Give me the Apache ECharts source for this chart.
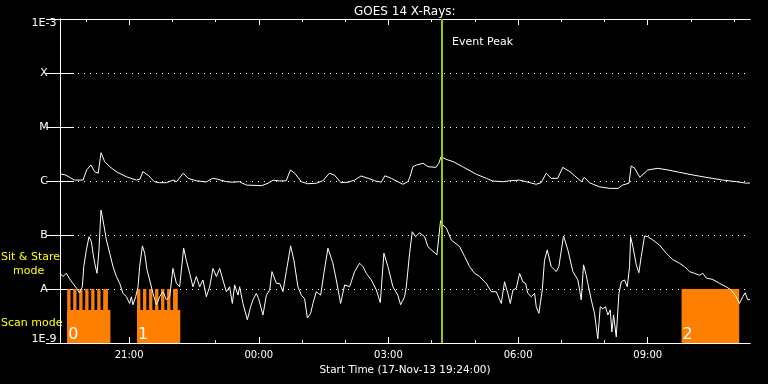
<!DOCTYPE html>
<html><head><meta charset="utf-8">
<script src="https://cdn.jsdelivr.net/npm/echarts@6/dist/echarts.min.js"></script>
<style>html,body{margin:0;padding:0;background:#000}#c{width:768px;height:384px}</style>
</head><body><div id="c"></div>
<script>
// time in minutes after start (17-Nov-13 19:24:00)
const startMinute = 19 * 60 + 24;
const xMax = 958;
const majorTicks = [96, 276, 456, 636, 816];
const minorTicks = [36, 156, 216, 336, 396, 516, 576, 696, 756, 876, 936];
const levelNames = { '-9': '1E-9', '-8': 'A', '-7': 'B', '-6': 'C', '-5': 'M', '-4': 'X', '-3': '1E-3' };
const eventPeak = 530;
const titleText = 'GOES 14 X-Rays:';
const xName = 'Start Time (17-Nov-13 19:24:00)';

// instrument mode blocks: [start, end]
const scanBlocks = [[10, 70], [107, 167]];
const stareBars = [[10, 14.6], [18.3, 22.9], [26.7, 31.3], [35, 39.6], [43.3, 47.9], [51.7, 56.3], [60, 66.5],
  [107, 111.6], [115.3, 119.9], [123.7, 128.3], [132, 136.6], [140.3, 144.9], [148.7, 153.3], [157, 163.5],
  [863, 943]];
const scanLevel = 4.1e-9;
const stareLevel = 1e-8;
const blockNames = ['0', '1', '2'];
const blockStarts = [10, 107, 863];

// long channel (1-8 A) flux W/m^2
const longChannel = [[0,1.35e-6],[8,1.29e-6],[20,1.04e-6],[32,1.04e-6],[37,1.60e-6],[43,1.98e-6],[48,1.49e-6],[53,1.39e-6],[57,3.34e-6],[62,2.28e-6],[69,1.84e-6],[78,1.49e-6],[92,1.20e-6],[106,1.04e-6],[111,1.08e-6],[115,1.49e-6],[122,1.29e-6],[131,9.7e-7],[138,9.3e-7],[148,9.3e-7],[157,1.04e-6],[162,9.7e-7],[171,1.39e-6],[178,1.12e-6],[189,1.01e-6],[203,9.6e-7],[212,1.12e-6],[219,1.08e-6],[231,9.7e-7],[240,9.5e-7],[249,9.7e-7],[259,8.4e-7],[280,8.2e-7],[289,9.1e-7],[296,1.04e-6],[305,1.0e-6],[314,1.01e-6],[320,1.60e-6],[326,1.39e-6],[335,9.7e-7],[344,8.9e-7],[356,9.1e-7],[365,1.01e-6],[374,1.39e-6],[381,1.29e-6],[390,9.3e-7],[400,9.5e-7],[409,1.04e-6],[418,1.24e-6],[428,1.12e-6],[437,1.01e-6],[446,9.5e-7],[451,1.25e-6],[460,1.12e-6],[469,9.7e-7],[476,8.7e-7],[483,9.7e-7],[486,1.20e-6],[490,1.84e-6],[495,1.98e-6],[504,2.13e-6],[511,1.84e-6],[522,1.79e-6],[526,2.13e-6],[529,2.82e-6],[536,2.52e-6],[546,2.28e-6],[559,1.84e-6],[578,1.33e-6],[592,1.12e-6],[601,1.0e-6],[615,9.7e-7],[624,1.01e-6],[638,1.04e-6],[647,9.7e-7],[661,8.7e-7],[668,9.3e-7],[675,1.39e-6],[682,1.12e-6],[691,1.12e-6],[698,1.79e-6],[708,1.49e-6],[724,9.7e-7],[728,1.17e-6],[735,9.3e-7],[749,7.8e-7],[763,7.3e-7],[775,7.3e-7],[781,8.4e-7],[790,9.1e-7],[793,1.90e-6],[798,1.72e-6],[805,1.17e-6],[816,1.60e-6],[830,1.72e-6],[844,1.60e-6],[860,1.45e-6],[879,1.29e-6],[897,1.17e-6],[920,1.04e-6],[939,9.7e-7],[953,9.1e-7],[958,9.2e-7]];

// short channel (0.5-4 A) flux W/m^2
const shortChannel = [[0,1.95e-8],[4,1.7e-8],[9,1.95e-8],[12.5,1.6e-8],[18,1.27e-8],[23,1.03e-8],[27,8.5e-9],[31,1.1e-8],[33,2.6e-8],[36.6,5.3e-8],[40.3,9.3e-8],[43.6,7.5e-8],[45.8,4.6e-8],[48.2,3.0e-8],[51.4,1.95e-8],[54.1,5.3e-8],[56.9,2.9e-7],[59.7,1.9e-7],[64.4,8.1e-8],[69,4.6e-8],[73.6,2.6e-8],[78.3,1.7e-8],[82.9,1.27e-8],[87.4,8.3e-9],[92.2,7.2e-9],[96.7,5.4e-9],[99.1,7.2e-9],[101.3,5.1e-9],[105.1,7.2e-9],[108.3,1.1e-8],[110.6,2.6e-8],[114.4,6.3e-8],[117.6,4.6e-8],[120.8,2.25e-8],[124.5,1.47e-8],[129.1,8.3e-9],[133.8,5.1e-9],[138.4,7.2e-9],[143,8.9e-9],[147.7,6.3e-9],[152.3,7.2e-9],[156.8,2.4e-8],[161.6,1.27e-8],[166.1,1.1e-8],[171.7,5.7e-8],[175.4,3.4e-8],[180,1.95e-8],[184.6,1.1e-8],[189.3,1.7e-8],[193.9,1.1e-8],[198.5,1.47e-8],[203.2,7.2e-9],[207.8,1.1e-8],[212.4,2.4e-8],[217.1,1.7e-8],[221.7,2.4e-8],[226.2,1.47e-8],[231,8.9e-9],[235.5,1.1e-8],[239.3,5.4e-9],[242.5,1.19e-8],[247.1,7.7e-9],[249.4,1.1e-8],[254,5.4e-9],[260.1,2.7e-9],[264.7,4.7e-9],[267.9,6.3e-9],[272.6,8.3e-9],[275.8,6.6e-9],[281.8,3.3e-9],[286.5,7.7e-9],[291.1,9.6e-9],[294.3,2.1e-8],[300.4,1.27e-8],[305,1.27e-8],[309.5,8.9e-9],[314.2,2.1e-8],[320.2,6.3e-8],[324.8,3.4e-8],[330.3,1.1e-8],[335.1,7.7e-9],[339.6,6.6e-9],[343.4,2.9e-9],[348,3.55e-9],[351.2,5.4e-9],[355.9,8.9e-9],[361.9,7.7e-9],[366.4,1.95e-8],[372,5.7e-8],[378.9,3.0e-8],[383.6,1.47e-8],[389.6,5.4e-9],[395.2,1.19e-8],[402.1,1.1e-8],[409,2.1e-8],[416,3.0e-8],[420.6,2.6e-8],[425.3,1.95e-8],[432.2,1.47e-8],[439.2,9.6e-9],[444.7,5.6e-9],[449.7,4.6e-8],[455.3,2.6e-8],[462.2,1.1e-8],[469.1,7.7e-9],[472.9,5.1e-9],[478.4,7.2e-9],[480.8,1.1e-8],[485.4,4.6e-8],[489.1,1.15e-7],[493.7,9.3e-8],[499.3,1.1e-7],[506.2,9.3e-8],[510.8,6.1e-8],[515.5,5.3e-8],[523.3,4.3e-8],[526,9.3e-8],[528.4,1.84e-7],[531.6,1.53e-7],[536.3,1.35e-7],[543.3,8.1e-8],[554.8,6.1e-8],[561.8,4.0e-8],[568.7,2.6e-8],[575.6,1.95e-8],[582.5,1.7e-8],[591.8,1.27e-8],[598.8,8.9e-9],[605.7,8.9e-9],[612.7,5.4e-9],[617.2,1.36e-8],[621.8,8.3e-9],[625.2,5.4e-9],[628.8,9.6e-9],[633.5,1.03e-8],[638.1,1.95e-8],[642.6,1.36e-8],[646.4,1.27e-8],[649.6,8.3e-9],[654.3,7.2e-9],[658.9,8.3e-9],[661.2,4.7e-9],[664.9,3.55e-9],[669.6,9.6e-9],[672.7,3.4e-8],[676.5,5.3e-8],[682,2.6e-8],[689,2.1e-8],[692.6,2.6e-8],[699.1,9.6e-8],[705.1,5.3e-8],[712.1,2.1e-8],[719,1.47e-8],[723.7,6.3e-9],[726.9,2.8e-8],[730.6,1.8e-8],[732.8,1.27e-8],[737.6,6.3e-9],[742.1,3.55e-9],[744.5,2.0e-9],[746.7,1.2e-9],[750.1,4.7e-9],[753.7,4.3e-9],[757.4,4.7e-9],[760.6,3.3e-9],[764,4.1e-9],[766.2,1.6e-9],[768.6,3.3e-9],[772.3,1.3e-9],[776,8.3e-9],[779.3,1.36e-8],[783.8,1.47e-8],[787.6,1.1e-8],[790.8,2.6e-8],[792.2,9.3e-8],[795.4,6.1e-8],[800.1,2.8e-8],[803.7,2.0e-8],[807,4.0e-8],[811.6,9.6e-8],[816.1,9.3e-8],[823.1,8.1e-8],[832.4,6.5e-8],[841.7,4.6e-8],[850.8,3.5e-8],[860.1,3.0e-8],[867,2.6e-8],[874,2.1e-8],[880.9,1.95e-8],[887.9,1.8e-8],[892.5,1.95e-8],[897.2,1.6e-8],[906.4,1.5e-8],[915.7,1.27e-8],[924.9,1.1e-8],[931.9,9.6e-9],[938.8,7.2e-9],[943.4,5.4e-9],[948,7.2e-9],[951.3,8.5e-9],[954.9,6.3e-9],[958,6.4e-9]];

const FONT = 'DejaVu Sans';
const WHITE = '#ffffff';
const ORANGE = '#ff8000';
const yMin = 1e-9, yMax = 1e-3;

function clock(t) {
  const m = (Math.round(t) + startMinute) % 1440;
  return String(Math.floor(m / 60)).padStart(2, '0') + ':' + String(m % 60).padStart(2, '0');
}

function yLabel(v) {
  const e = Math.round(Math.log10(v));
  const name = levelNames[String(e)] || '';
  if (e === -3) return '{top|' + name + '}';
  if (e === -9) return '{bot|' + name + '}';
  return name;
}

const modeRects = scanBlocks.map(b => [b[0], b[1], scanLevel]).concat(stareBars.map(b => [b[0], b[1], stareLevel]));

function xAxisDef(pos, ticks, len, withLabel) {
  const a = {
    type: 'value', min: 0, max: xMax, position: pos,
    axisLine: { show: true, onZero: false, lineStyle: { color: WHITE, width: 1 } },
    axisTick: { show: true, inside: true, length: len, customValues: ticks, lineStyle: { color: WHITE, width: 1 } },
    axisLabel: { show: false },
    splitLine: { show: false }
  };
  if (withLabel) {
    a.axisLabel = { show: true, customValues: ticks, formatter: clock, color: WHITE, fontSize: 10, fontFamily: FONT, margin: 7 };
    a.name = xName;
    a.nameLocation = 'middle';
    a.nameGap = 20;
    a.nameTextStyle = { color: WHITE, fontSize: 10.5, fontFamily: FONT };
  }
  return a;
}

const chart = echarts.init(document.getElementById('c'), null, { renderer: 'canvas' });
chart.setOption({
  backgroundColor: '#000000',
  animation: false,
  title: { text: titleText, left: 349, top: 1, textStyle: { color: WHITE, fontSize: 12, fontWeight: 'normal', fontFamily: FONT } },
  grid: { left: 60, right: 18, top: 19, bottom: 41, show: false },
  xAxis: [
    xAxisDef('bottom', majorTicks, 6, true),
    xAxisDef('bottom', minorTicks, 3, false),
    xAxisDef('top', majorTicks, 6, false),
    xAxisDef('top', minorTicks, 3, false)
  ],
  yAxis: [
    {
      type: 'log', logBase: 10, min: yMin, max: yMax, splitNumber: 6, position: 'left',
      axisLine: { show: true, lineStyle: { color: WHITE, width: 1 } },
      axisTick: { show: true, inside: true, length: 14, lineStyle: { color: WHITE, width: 1 } },
      axisLabel: {
        color: WHITE, fontSize: 11, fontFamily: FONT, align: 'center', margin: 16,
        formatter: yLabel,
        rich: {
          top: { color: WHITE, fontSize: 11, fontFamily: FONT, padding: [9, 0, 0, 0] },
          bot: { color: WHITE, fontSize: 11, fontFamily: FONT, padding: [0, 0, 7, 0] }
        }
      },
      splitLine: { show: true, lineStyle: { color: WHITE, width: 1, type: [1, 5] } }
    },
    {
      type: 'log', logBase: 10, min: yMin, max: yMax, splitNumber: 6, position: 'right',
      axisLine: { show: true, lineStyle: { color: WHITE, width: 1 } },
      axisTick: { show: true, inside: true, length: 14, lineStyle: { color: WHITE, width: 1 } },
      axisLabel: { show: false },
      splitLine: { show: false }
    }
  ],
  graphic: [
    { type: 'text', left: 1, top: 252, style: { text: 'Sit & Stare', fill: '#ffff00', font: '11px "DejaVu Sans"' } },
    { type: 'text', left: 13, top: 266, style: { text: 'mode', fill: '#ffff00', font: '11px "DejaVu Sans"' } },
    { type: 'text', left: 1, top: 318, style: { text: 'Scan mode', fill: '#ffff00', font: '11px "DejaVu Sans"' } },
    { type: 'text', left: 452, top: 37, style: { text: 'Event Peak', fill: WHITE, font: '11px "DejaVu Sans"' } }
  ],
  series: [
    {
      type: 'custom', name: 'mode', xAxisIndex: 0, yAxisIndex: 0, z: 1,
      encode: { x: [0, 1], y: 2 },
      data: modeRects,
      renderItem: function (params, api) {
        const p1 = api.coord([api.value(0), api.value(2)]);
        const p2 = api.coord([api.value(1), yMin]);
        return { type: 'rect', shape: { x: p1[0], y: p1[1], width: p2[0] - p1[0], height: p2[1] - p1[1] }, style: { fill: ORANGE } };
      }
    },
    {
      type: 'custom', name: 'blocks', xAxisIndex: 0, yAxisIndex: 0, z: 4,
      encode: { x: 0 },
      data: blockStarts.map(s => [s]),
      renderItem: function (params, api) {
        const p = api.coord([api.value(0), yMin]);
        return { type: 'text', x: p[0] + 1, y: p[1], style: { text: blockNames[params.dataIndex], fill: WHITE, fontSize: 16, fontFamily: FONT, verticalAlign: 'bottom', align: 'left' } };
      }
    },
    {
      type: 'line', name: 'long', data: longChannel, xAxisIndex: 0, yAxisIndex: 0, z: 3,
      symbol: 'none', showSymbol: false, lineStyle: { color: WHITE, width: 1 }
    },
    {
      type: 'line', name: 'short', data: shortChannel, xAxisIndex: 0, yAxisIndex: 0, z: 3,
      symbol: 'none', showSymbol: false, lineStyle: { color: WHITE, width: 1 },
      markLine: {
        silent: true, symbol: ['none', 'none'], label: { show: false },
        lineStyle: { color: '#99cc00', width: 2, type: 'solid' },
        data: [{ xAxis: eventPeak }]
      }
    }
  ]
});
</script>
</body></html>
